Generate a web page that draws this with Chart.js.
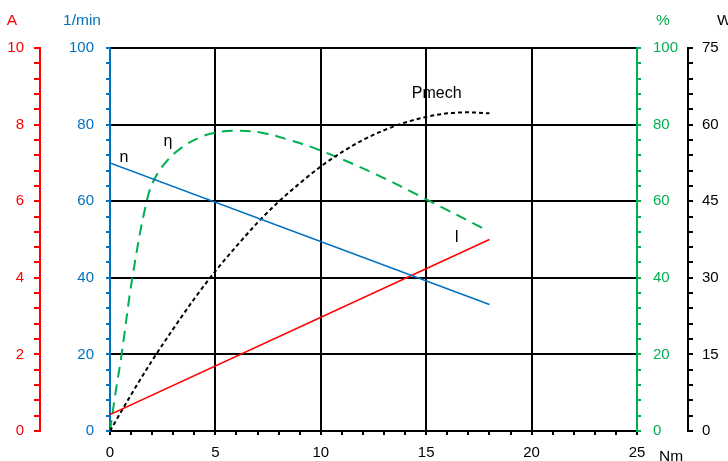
<!DOCTYPE html>
<html>
<head>
<meta charset="utf-8">
<script src="https://cdn.jsdelivr.net/npm/chart.js@4.4.1/dist/chart.umd.min.js"></script>
<style>
  html, body { margin: 0; padding: 0; background: #fff; }
  #wrap { width: 728px; height: 461px; position: relative; }
</style>
</head>
<body>
<div id="wrap"><canvas id="chart"></canvas></div>
<script>
// Motor characteristic data
const torqueLine = [0, 18];                 // Nm
const speedRpm = [70, 33];                  // 1/min
const currentA = [0.43, 5.0];               // A
const torquePmech = [0, 1, 2, 3, 4, 5, 6, 7, 8, 9, 10, 11, 12, 13, 14, 15, 16, 17, 18];
const pmechW = [0, 7.1, 13.8, 20.0, 25.9, 31.3, 36.2, 40.8, 44.9, 48.5, 51.8, 54.6, 57.0, 58.9, 60.4, 61.5, 62.2, 62.4, 62.2];
const torqueEff = [0, 0.25, 0.55, 1.06, 1.74, 2.13, 2.7, 3.4, 4.2, 5, 5.9, 7.2, 8.5, 10.0, 12.5, 15.0, 17.8];
const effPct = [0, 9.5, 20, 40, 60, 66, 70.5, 74, 76.5, 77.9, 78.4, 77.9, 76.0, 73.2, 67.3, 60.5, 52.6];

const RED = '#ff0000';
const BLUE = '#0070c0';
const GREEN = '#00b050';
const BLACK = '#000000';
const FONT = '"Liberation Sans", Arial, sans-serif';

const toPoints = (xs, ys) => xs.map((x, i) => ({ x: x, y: ys[i] }));
const isMajor = (v, major) => Math.abs(v / major - Math.round(v / major)) < 1e-6;
const fmt = (v) => String(Math.round(v * 100) / 100);

// builds a y axis with minor ticks and labels only on the major values
const yAxis = (opts) => ({
    type: 'linear',
    position: opts.position,
    weight: opts.weight,
    min: opts.min,
    max: opts.max,
    afterFit: (scale) => { scale.width = opts.width; },
    border: { color: opts.color, width: 2 },
    grid: {
        drawOnChartArea: !!opts.gridOnArea,
        color: (ctx) => (opts.gridOnArea && ctx.tick && ctx.tick.value > 0 && isMajor(ctx.tick.value, opts.major)) ? BLACK : 'rgba(0,0,0,0)',
        lineWidth: 2,
        tickColor: opts.color,
        tickLength: opts.tickLength,
        tickWidth: 2,
    },
    ticks: {
        stepSize: opts.step,
        autoSkip: false,
        color: opts.color,
        padding: opts.padding,
        font: { family: FONT, size: 15 },
        callback: (v) => isMajor(v, opts.major) ? fmt(v) : '',
    },
});

const textPlugin = {
    id: 'texts',
    afterDraw(chart) {
        const { ctx, scales } = chart;
        const s = scales;
        ctx.save();
        ctx.font = '15.5px ' + FONT;
        ctx.textBaseline = 'middle';
        ctx.textAlign = 'center';
        // axis titles
        ctx.fillStyle = RED; ctx.fillText('A', s.yA.right - 28, 21);
        ctx.fillStyle = BLUE; ctx.fillText('1/min', s.yN.right - 28, 21);
        ctx.fillStyle = GREEN; ctx.fillText('%', s.yP.left + 26, 21);
        ctx.fillStyle = BLACK; ctx.textAlign = 'left'; ctx.fillText('W', s.yW.left + 29, 21);
        ctx.fillText('Nm', s.x.right + 22, s.x.bottom - 4);
        // curve labels
        ctx.font = '16px ' + FONT;
        ctx.textAlign = 'center';
        ctx.fillText('n', s.x.getPixelForValue(0.66), s.yN.getPixelForValue(71.3));
        ctx.fillText('η', s.x.getPixelForValue(2.75), s.yP.getPixelForValue(75.5));
        ctx.fillText('Pmech', s.x.getPixelForValue(15.5), s.yP.getPixelForValue(88));
        ctx.fillText('I', s.x.getPixelForValue(16.45), s.yP.getPixelForValue(50.5));
        ctx.restore();
    }
};

document.addEventListener('DOMContentLoaded', () => {
    const ctx = document.getElementById('chart').getContext('2d');
    new Chart(ctx, {
        type: 'line',
        data: {
            datasets: [
                { label: 'n', data: toPoints(torqueLine, speedRpm), yAxisID: 'yN', borderColor: BLUE, borderWidth: 1.6 },
                { label: 'I', data: toPoints(torqueLine, currentA), yAxisID: 'yA', borderColor: RED, borderWidth: 1.6 },
                { label: 'Pmech', data: toPoints(torquePmech, pmechW), yAxisID: 'yW', borderColor: BLACK, borderWidth: 2, borderDash: [4, 3], cubicInterpolationMode: 'monotone' },
                { label: 'η', data: toPoints(torqueEff, effPct), yAxisID: 'yP', borderColor: GREEN, borderWidth: 2, borderDash: [11, 7], tension: 0.4 },
            ]
        },
        options: {
            responsive: true,
            maintainAspectRatio: false,
            animation: false,
            layout: { padding: { top: 48, left: 0, right: 0, bottom: 0 } },
            elements: { point: { radius: 0 } },
            plugins: { legend: { display: false }, tooltip: { enabled: false } },
            scales: {
                x: {
                    type: 'linear',
                    position: 'bottom',
                    min: 0,
                    max: 25,
                    afterFit: (scale) => { scale.height = 30; },
                    border: { color: BLACK, width: 2 },
                    grid: {
                        color: (c) => (c.tick && c.tick.value > 0 && c.tick.value < 25 && isMajor(c.tick.value, 5)) ? BLACK : 'rgba(0,0,0,0)',
                        lineWidth: 2,
                        tickColor: BLACK,
                        tickLength: 4,
                        tickWidth: 2,
                    },
                    ticks: {
                        stepSize: 1,
                        autoSkip: false,
                        maxRotation: 0,
                        color: BLACK,
                        padding: 9,
                        font: { family: FONT, size: 15 },
                        callback: (v) => isMajor(v, 5) ? fmt(v) : '',
                    },
                },
                yA: yAxis({ position: 'left', weight: 1, min: 0, max: 10, step: 0.4, major: 2, color: RED, width: 40, tickLength: 6, padding: 10 }),
                yN: yAxis({ position: 'left', weight: 0, min: 0, max: 100, step: 4, major: 20, color: BLUE, width: 70, tickLength: 4, padding: 12, gridOnArea: true }),
                yP: yAxis({ position: 'right', weight: 0, min: 0, max: 100, step: 4, major: 20, color: GREEN, width: 51, tickLength: 4, padding: 12 }),
                yW: yAxis({ position: 'right', weight: 1, min: 0, max: 75, step: 3, major: 15, color: BLACK, width: 40, tickLength: 5, padding: 9 }),
            }
        },
        plugins: [textPlugin]
    });
});
</script>
</body>
</html>
